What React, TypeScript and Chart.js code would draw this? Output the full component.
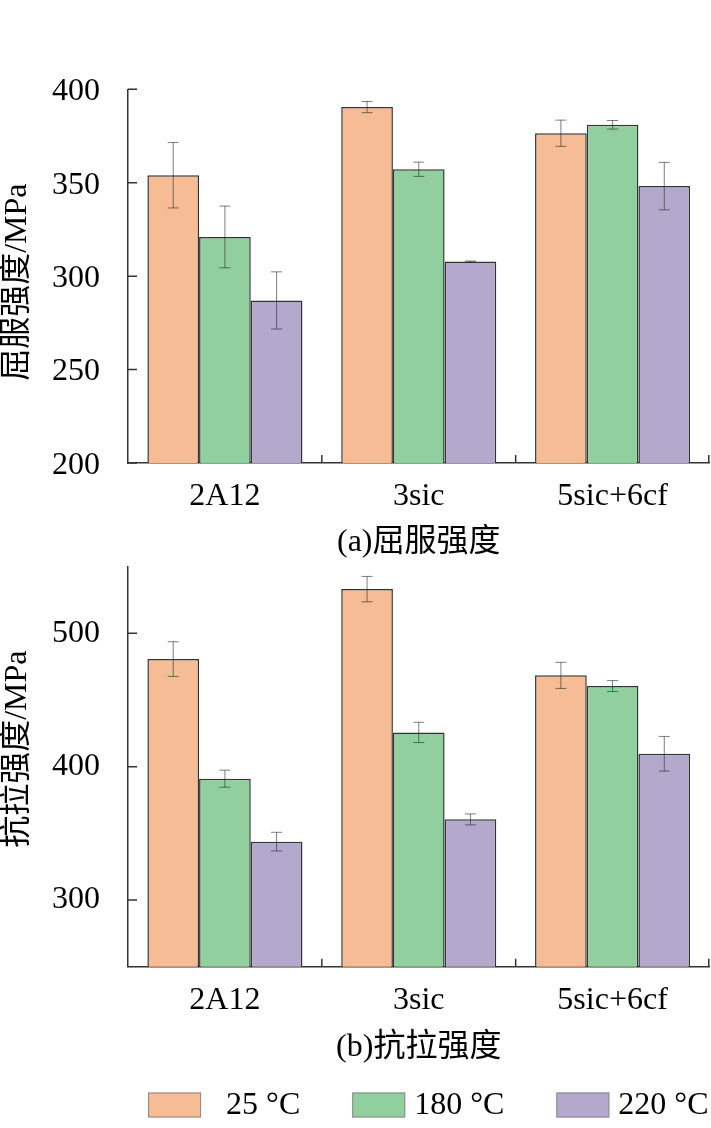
import React, { useEffect, useRef } from 'react';
import { Chart, registerables } from 'chart.js';

Chart.register(...registerables);

const categories = ['2A12', '3sic', '5sic+6cf'];
const seriesLabels = ['  25 °C', '180 °C', '220 °C'];
const seriesColors = ['#F6BC95', '#92CF9E', '#B4A8CC'];

const yieldValues25 = [354, 390.5, 376.5];
const yieldValues180 = [321, 357.2, 381];
const yieldValues220 = [287, 307.8, 348.2];
const yieldErr25 = [17.5, 3, 7];
const yieldErr180 = [16.5, 3.8, 2.3];
const yieldErr220 = [15.3, 0.3, 12.7];

const tensileValues25 = [480.7, 533.2, 468.5];
const tensileValues180 = [391, 425.7, 460.5];
const tensileValues220 = [343.8, 360.5, 409.7];
const tensileErr25 = [13, 9.5, 9.8];
const tensileErr180 = [6.4, 7.6, 4.1];
const tensileErr220 = [7, 4.1, 13];

const yieldTicks = [200, 250, 300, 350, 400];
const tensileTicks = [300, 400, 500];

const FAMILY = '"Liberation Serif", "Noto Sans CJK SC", serif';
const FONT = { family: FAMILY, size: 32 };

const errorBarPlugin = {
  id: 'errorBars',
  afterDatasetsDraw(chart: any) {
    const ctx = chart.ctx;
    const yScale = chart.scales.y;
    ctx.save();
    ctx.strokeStyle = 'rgba(40,40,40,0.6)';
    ctx.lineWidth = 1;
    chart.data.datasets.forEach((ds: any, di: number) => {
      const meta = chart.getDatasetMeta(di);
      meta.data.forEach((bar: any, i: number) => {
        const v = ds.data[i];
        const e = ds.errors[i];
        const yt = yScale.getPixelForValue(v + e);
        const yb = yScale.getPixelForValue(v - e);
        const x = bar.x;
        const cap = 5.5;
        ctx.beginPath();
        ctx.moveTo(x, yt);
        ctx.lineTo(x, yb);
        ctx.moveTo(x - cap, yt);
        ctx.lineTo(x + cap, yt);
        ctx.moveTo(x - cap, yb);
        ctx.lineTo(x + cap, yb);
        ctx.stroke();
      });
    });
    ctx.restore();
  },
};

const tickPlugin = {
  id: 'innerTicks',
  afterDraw(chart: any) {
    const ctx = chart.ctx;
    const { left, right, bottom } = chart.chartArea;
    const yScale = chart.scales.y;
    const n = chart.data.labels.length;
    ctx.save();
    ctx.strokeStyle = '#333';
    ctx.lineWidth = 1.5;
    ctx.beginPath();
    yScale.ticks.forEach((t: any) => {
      const y = yScale.getPixelForValue(t.value);
      ctx.moveTo(left, y);
      ctx.lineTo(left + 9, y);
    });
    const w = (right - left) / n;
    for (let i = 1; i <= n; i++) {
      const x = Math.min(left + w * i, right - 0.75);
      ctx.moveTo(x, bottom);
      ctx.lineTo(x, bottom - 8);
    }
    ctx.stroke();
    ctx.restore();
  },
};

const yTitlePlugin = {
  id: 'yTitle',
  afterDraw(chart: any, _args: any, opts: any) {
    const ctx = chart.ctx;
    const { top, bottom } = chart.chartArea;
    ctx.save();
    ctx.font = `32px ${FAMILY}`;
    ctx.fillStyle = '#000';
    ctx.textAlign = 'center';
    ctx.textBaseline = 'middle';
    ctx.translate(opts.x, (top + bottom) / 2 + opts.dy);
    ctx.rotate(-Math.PI / 2);
    ctx.fillText(opts.text, 0, 0);
    ctx.restore();
  },
};

const legendPlugin = {
  id: 'bottomLegend',
  afterDraw(chart: any) {
    const ctx = chart.ctx;
    ctx.save();
    ctx.font = `32px ${FAMILY}`;
    const boxW = 53;
    const boxH = 25;
    const gap = 9;
    const spacing = 52;
    const items = chart.data.datasets.map((ds: any) => ({
      label: ds.label,
      color: ds.backgroundColor,
      w: ctx.measureText(ds.label).width,
    }));
    const total =
      items.reduce((s: number, it: any) => s + boxW + gap + it.w, 0) + spacing * (items.length - 1);
    let x = chart.chartArea.right - 1 - total;
    const cy = chart.height - 23;
    items.forEach((it: any) => {
      ctx.fillStyle = it.color;
      ctx.fillRect(x, cy - boxH / 2, boxW, boxH);
      ctx.strokeStyle = '#8a8a8a';
      ctx.lineWidth = 1;
      ctx.strokeRect(x + 0.5, cy - boxH / 2 + 0.5, boxW - 1, boxH - 1);
      ctx.fillStyle = '#000';
      ctx.textAlign = 'left';
      ctx.textBaseline = 'middle';
      ctx.fillText(it.label, x + boxW + gap, cy + 1);
      x += boxW + gap + it.w + spacing;
    });
    ctx.restore();
  },
};

function makeConfig(opts: {
  values: number[][];
  errors: number[][];
  min: number;
  max: number;
  ticks: number[];
  xTitle: string;
  yTitle: string;
  yTitleDy: number;
  padTop: number;
  padBottom: number;
  labelOffset: number;
  titlePadBottom: number;
  legend: boolean;
}) {
  const plugins: any[] = [errorBarPlugin, tickPlugin, yTitlePlugin];
  if (opts.legend) plugins.push(legendPlugin);
  return {
    type: 'bar' as const,
    data: {
      labels: categories,
      datasets: opts.values.map((vals, i) => ({
        label: seriesLabels[i],
        data: vals,
        errors: opts.errors[i],
        backgroundColor: seriesColors[i],
        borderColor: '#333',
        borderWidth: 1.5,
        categoryPercentage: 0.8,
        barPercentage: 1.0,
      })),
    },
    options: {
      responsive: true,
      maintainAspectRatio: false,
      animation: false,
      layout: { padding: { top: opts.padTop, left: 0, right: 1.5, bottom: opts.padBottom } },
      plugins: {
        legend: { display: false },
        tooltip: { enabled: false },
        yTitle: { text: opts.yTitle, x: 18, dy: opts.yTitleDy },
      },
      scales: {
        x: {
          offset: true,
          grid: { display: false, drawTicks: false },
          border: { display: true, color: '#333', width: 1.5 },
          ticks: { padding: 14.5, font: FONT, color: '#000', maxRotation: 0 },
          title: {
            display: true,
            text: opts.xTitle,
            color: '#000',
            font: { ...FONT, lineHeight: 1 },
            padding: { top: 0, bottom: opts.titlePadBottom },
          },
          afterFit: (s: any) => {
            s.height = 97;
            s.paddingLeft = 0;
            s.paddingRight = 0;
          },
        },
        y: {
          min: opts.min,
          max: opts.max,
          afterBuildTicks: (s: any) => {
            s.ticks = opts.ticks.map((v) => ({ value: v }));
          },
          afterFit: (s: any) => {
            s.width = 128;
            s.paddingTop = 0;
            s.paddingBottom = 0;
          },
          grid: { display: false, drawTicks: false },
          border: { display: true, color: '#333', width: 1.5 },
          ticks: { padding: 28, font: FONT, color: '#000', labelOffset: opts.labelOffset },
        },
      },
    },
    plugins,
  };
}

function ChartCanvas({ config, height }: { config: any; height: number }) {
  const ref = useRef<HTMLCanvasElement | null>(null);
  useEffect(() => {
    if (!ref.current) return;
    const chart = new Chart(ref.current, config);
    return () => chart.destroy();
  }, [config]);
  return (
    <div style={{ position: 'relative', width: 711, height }}>
      <canvas ref={ref} />
    </div>
  );
}

const topConfig = makeConfig({
  values: [yieldValues25, yieldValues180, yieldValues220],
  errors: [yieldErr25, yieldErr180, yieldErr220],
  min: 200,
  max: 400,
  ticks: yieldTicks,
  xTitle: '(a)屈服强度',
  yTitle: '屈服强度/MPa',
  yTitleDy: 6,
  padTop: 89.3,
  padBottom: 0,
  labelOffset: 2.5,
  titlePadBottom: 1.5,
  legend: false,
});

const bottomConfig = makeConfig({
  values: [tensileValues25, tensileValues180, tensileValues220],
  errors: [tensileErr25, tensileErr180, tensileErr220],
  min: 250,
  max: 550,
  ticks: tensileTicks,
  xTitle: '(b)抗拉强度',
  yTitle: '抗拉强度/MPa',
  yTitleDy: -17.5,
  padTop: 6.7,
  padBottom: 64.3,
  labelOffset: 0,
  titlePadBottom: 0,
  legend: true,
});

export default function App() {
  return (
    <div style={{ position: 'absolute', left: 0, top: 0, width: 711, height: 1128, background: '#fff' }}>
      <ChartCanvas config={topConfig} height={560} />
      <ChartCanvas config={bottomConfig} height={568} />
    </div>
  );
}
